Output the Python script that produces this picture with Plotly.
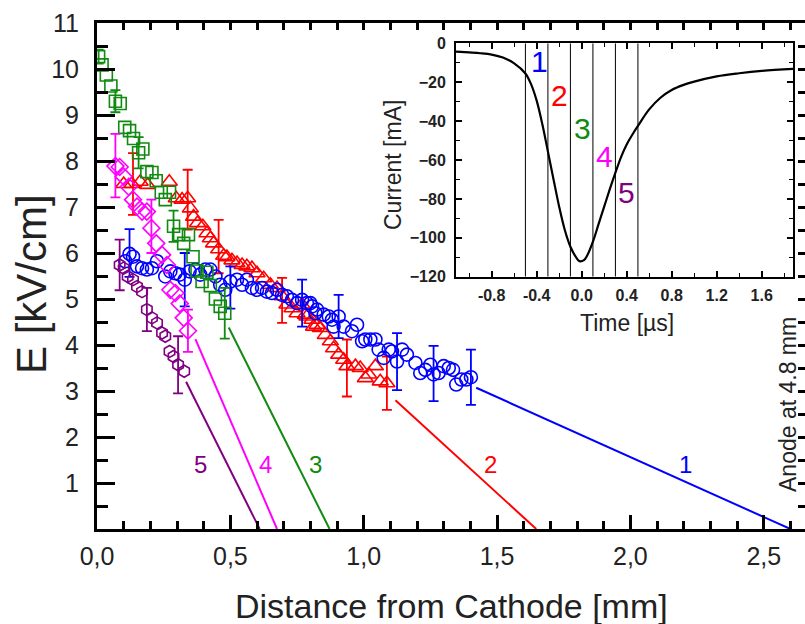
import plotly.graph_objects as go

# ---------------- data ----------------
# series 1 (blue circles)
s1_x = [0.106,0.122,0.135,0.150,0.169,0.187,0.206,0.225,0.256,0.275,0.294,0.310,0.329,0.347,0.369,0.387,
        0.406,0.425,0.444,0.462,0.481,0.500,0.525,0.544,0.562,0.581,0.600,0.619,0.637,0.656,0.675,0.694,
        0.712,0.731,0.750,0.769,0.787,0.800,0.806,0.819,0.825,0.850,0.869,0.881,0.887,0.906,0.925,0.956,
        0.975,0.994,1.006,1.025,1.044,1.056,1.075,1.094,1.106,1.125,1.144,1.162,1.194,1.212,1.231,1.250,
        1.262,1.281,1.300,1.319,1.335,1.347,1.366,1.385,1.402]
s1_y = [5.82,5.98,5.92,5.71,5.67,5.64,5.67,5.82,5.49,5.60,5.56,5.53,5.42,5.60,5.64,5.53,
        5.64,5.64,5.49,5.31,5.20,5.38,5.42,5.31,5.42,5.24,5.20,5.24,5.16,5.13,5.20,5.09,
        5.06,4.98,4.91,4.98,4.91,4.91,4.84,4.69,4.77,4.66,4.62,4.55,4.40,4.62,4.40,4.30,
        4.44,4.08,4.12,4.12,4.12,3.90,3.72,3.90,3.86,3.64,3.90,3.79,3.61,3.39,3.46,3.57,
        3.36,3.39,3.54,3.50,3.46,3.14,3.25,3.25,3.30]
s1_ex = [0.122,0.329,0.500,0.769,0.906,1.125,1.262,1.402]
s1_ey = [6.00,5.42,5.25,4.91,4.62,3.64,3.38,3.30]
s1_err = [0.52,0.58,0.46,0.51,0.47,0.62,0.60,0.60]

# series 2 (red triangles)
s2_x = [0.100,0.131,0.162,0.190,0.271,0.297,0.319,0.340,0.350,0.362,0.377,0.397,0.412,0.425,0.437,0.456,
        0.475,0.487,0.506,0.525,0.544,0.562,0.581,0.600,0.625,0.650,0.675,0.694,0.712,0.731,0.750,0.769,
        0.781,0.787,0.806,0.812,0.825,0.837,0.856,0.875,0.887,0.906,0.925,0.937,0.969,0.987,1.006,1.019,
        1.044,1.062,1.087]
s2_y = [7.50,7.50,7.55,7.48,7.55,7.19,7.16,7.19,6.97,6.79,6.65,6.58,6.43,6.32,6.21,6.08,
        5.94,5.91,5.84,5.78,5.74,5.71,5.67,5.56,5.45,5.31,5.24,5.06,4.88,4.80,4.69,4.88,
        4.66,4.62,4.55,4.40,4.44,4.37,4.22,4.08,3.93,3.79,3.68,3.54,3.54,3.50,3.28,3.36,
        3.54,3.21,3.17]
s2_ex = [0.135,0.340,0.456,0.694,0.937,1.087]
s2_ey = [7.50,7.16,6.14,4.97,3.50,3.17]
s2_err = [0.67,0.65,0.58,0.49,0.62,0.58]

# series 3 (green squares)
s3_x = [0.006,0.019,0.035,0.052,0.069,0.087,0.104,0.122,0.137,0.156,0.172,0.187,0.206,0.222,0.241,0.256,
        0.272,0.287,0.306,0.325,0.343,0.360,0.375,0.394,0.412,0.425,0.444,0.462,0.479]
s3_y = [10.27,10.09,9.87,9.63,9.30,9.25,8.73,8.66,8.49,8.18,8.26,7.77,7.75,7.57,7.32,7.16,
        7.32,6.58,6.40,6.21,6.40,5.92,5.61,5.38,5.58,5.29,5.00,4.84,4.69]
s3_ex = [0.006,0.069,0.156,0.287,0.479]
s3_ey = [10.27,9.30,8.18,6.58,4.69]
s3_err = [0.15,0.24,0.34,0.34,0.55]

# series 4 (magenta diamonds)
s4_x = [0.069,0.085,0.100,0.119,0.135,0.150,0.169,0.187,0.204,0.222,0.244,0.262,0.275,0.294,0.310,0.325,0.341]
s4_y = [7.89,7.87,7.66,7.44,7.16,7.01,6.90,6.90,6.54,6.21,5.96,5.74,5.20,5.13,4.90,4.59,4.31]
s4_ex = [0.069,0.204,0.341]
s4_ey = [7.90,6.58,4.31]
s4_err = [0.69,0.58,0.46]

# series 5 (purple hexagons)
s5_x = [0.085,0.100,0.115,0.135,0.150,0.169,0.187,0.206,0.225,0.244,0.256,0.272,0.287,0.304,0.327]
s5_y = [5.74,5.67,5.49,5.42,5.27,5.16,4.77,4.59,4.48,4.26,4.19,3.86,3.75,3.57,3.43]
s5_ex = [0.085,0.187,0.304]
s5_ey = [5.74,4.77,3.57]
s5_err = [0.55,0.47,0.62]

# linear extrapolations to E = 0
fit_x0 = [1.422, 1.119, 0.494, 0.369, 0.334]
fit_y0 = [3.07, 2.80, 4.38, 4.13, 3.20]
fit_x1 = [2.600, 1.647, 0.872, 0.675, 0.610]

series_names = ["1", "2", "3", "4", "5"]
colors = ["#0000ff", "#ff0000", "#108a10", "#ff00ff", "#800080"]
symbols = ["circle-open", "triangle-up-open", "square-open", "diamond-open", "hexagon-open"]
marker_sizes = [13, 14, 12, 13, 12]

# main axes ticks
x_tickvals = [0.0, 0.5, 1.0, 1.5, 2.0, 2.5]
x_ticktext = ["0,0", "0,5", "1,0", "1,5", "2,0", "2,5"]
y_tickvals = [1, 2, 3, 4, 5, 6, 7, 8, 9, 10, 11]

# inset: current pulse
t_us = [-1.117, -1.0, -0.9, -0.8, -0.7, -0.6, -0.5, -0.45, -0.4, -0.35, -0.3, -0.25, -0.2, -0.15, -0.1,
        -0.05, -0.02, 0.02, 0.05, 0.1, 0.15, 0.2, 0.25, 0.3, 0.35, 0.4, 0.45, 0.5, 0.6, 0.7, 0.8, 0.9,
        1.0, 1.2, 1.4, 1.6, 1.88]
i_mA = [-4.3, -4.7, -5.1, -5.8, -7.3, -10.3, -15.5, -21.0, -29.5, -41.5, -55.7, -70.0, -84.0, -96.0, -104.6,
        -110.0, -112.0, -111.5, -109.0, -102.0, -93.0, -84.0, -75.0, -66.5, -58.5, -52.0, -47.0, -42.5,
        -34.0, -28.0, -24.0, -21.5, -19.7, -17.0, -15.4, -14.2, -13.2]
window_edges = [-0.5, -0.3, -0.1, 0.1, 0.3, 0.5]
inset_tickvals = [-0.8, -0.4, 0.0, 0.4, 0.8, 1.2, 1.6]
inset_yticks = [0, -20, -40, -60, -80, -100, -120]

# ---------------- layout geometry ----------------
W, H = 805, 624
L, R, T, B = 97, 0, 23, 95
PW, PH = W - L - R, H - T - B
X_PER_MM = 266.7
XMAX = PW / X_PER_MM

def px2paper(px, py):
    return (px - L) / PW, (H - B - py) / PH

FONT = "Liberation Sans, Arial, Helvetica, sans-serif"
fig = go.Figure()

series = [(s1_x, s1_y, s1_ex, s1_ey, s1_err), (s2_x, s2_y, s2_ex, s2_ey, s2_err),
          (s3_x, s3_y, s3_ex, s3_ey, s3_err), (s4_x, s4_y, s4_ex, s4_ey, s4_err),
          (s5_x, s5_y, s5_ex, s5_ey, s5_err)]

# fit lines
for i in range(5):
    fig.add_trace(go.Scatter(x=[fit_x0[i], fit_x1[i]], y=[fit_y0[i], 0], mode="lines",
                             line=dict(color=colors[i], width=2), showlegend=False, hoverinfo="skip"))

draw_order = [1, 0, 2, 3, 4]
for i in draw_order:
    sx, sy, ex, ey, er = series[i]
    fig.add_trace(go.Scatter(x=ex, y=ey, mode="markers", marker=dict(size=1, opacity=0),
                             error_y=dict(type="data", array=er, visible=True, color=colors[i],
                                          thickness=1.8, width=5),
                             showlegend=False, hoverinfo="skip"))
    fig.add_trace(go.Scatter(x=sx, y=sy, mode="markers", name=series_names[i],
                             marker=dict(symbol=symbols[i], size=marker_sizes[i],
                                         color=colors[i], line=dict(color=colors[i], width=1.6)),
                             showlegend=False))

# dummy trace for top/right mirror axes
fig.add_trace(go.Scatter(x=[None], y=[None], xaxis="x3", yaxis="y3", showlegend=False))

# inset traces
for tv in window_edges:
    fig.add_trace(go.Scatter(x=[tv, tv], y=[-120, 0], mode="lines", xaxis="x2", yaxis="y2",
                             line=dict(color="black", width=1), showlegend=False, hoverinfo="skip"))
fig.add_trace(go.Scatter(x=t_us, y=i_mA, mode="lines", xaxis="x2", yaxis="y2",
                         line=dict(color="black", width=2.2, shape="spline", smoothing=1.0),
                         showlegend=False))

# inset domain
ix0, iy0 = px2paper(456, 276.7)
ix1, iy1 = px2paper(793.3, 43.3)

axis_common = dict(showgrid=False, zeroline=False, linecolor="black", tickcolor="black", automargin=False)
fig.update_layout(
    width=W, height=H, margin=dict(l=L, r=R, t=T, b=B, autoexpand=False),
    paper_bgcolor="white", plot_bgcolor="rgba(0,0,0,0)",
    font=dict(family=FONT, color="#222"),
    xaxis=dict(range=[0, XMAX], domain=[0, 1], showline=True, linewidth=3, ticks="inside",
               ticklen=14, tickwidth=2.5, tickvals=x_tickvals, ticktext=x_ticktext,
               tickfont=dict(size=25, color="#222"), ticklabelstandoff=3,
               minor=dict(ticks="inside", ticklen=8, tickwidth=2.5, tick0=0, dtick=0.1, tickcolor="black"),
               **axis_common),
    yaxis=dict(range=[0, 11], domain=[0, 1], showline=True, linewidth=3, ticks="inside",
               ticklen=18, tickwidth=2.5, tickvals=y_tickvals, ticktext=[str(v) for v in y_tickvals],
               tickfont=dict(size=25, color="#222"), ticklabelstandoff=10,
               minor=dict(ticks="inside", ticklen=11, tickwidth=2.5, tick0=0, dtick=0.5, tickcolor="black"),
               **axis_common),
    xaxis3=dict(range=[0, XMAX], overlaying="x", side="top", anchor="y3", showline=True, linewidth=3,
                ticks="inside", ticklen=7, tickwidth=2.5, tick0=0, dtick=0.1, showticklabels=False,
                **axis_common),
    yaxis3=dict(range=[0, 11], overlaying="y", side="right", anchor="x3", showline=False,
                ticks="inside", ticklen=7, tickwidth=2.5, tick0=0, dtick=0.5, showticklabels=False,
                **axis_common),
    xaxis2=dict(domain=[ix0, ix1], anchor="y2", range=[-1.117, 1.881], showline=True, linewidth=2,
                mirror="ticks", ticks="inside", ticklen=6, tickwidth=1.5, tickvals=inset_tickvals,
                ticktext=["%.1f" % v for v in inset_tickvals],
                tickfont=dict(size=16, color="#222", family=FONT, weight="bold"), ticklabelstandoff=3,
                minor=dict(ticks="inside", ticklen=4, tickwidth=1.2, tick0=0, dtick=0.2, tickcolor="black"),
                **axis_common),
    yaxis2=dict(domain=[iy0, iy1], anchor="x2", range=[-120, 0], showline=True, linewidth=2,
                mirror="ticks", ticks="inside", ticklen=6, tickwidth=1.5, tickvals=inset_yticks,
                tickfont=dict(size=16, color="#222", family=FONT, weight="bold"), ticklabelstandoff=5,
                minor=dict(ticks="inside", ticklen=4, tickwidth=1.2, tick0=0, dtick=10, tickcolor="black"),
                **axis_common),
)

ann = []
# axis titles
ax_, ay_ = px2paper(452, 606)
ann.append(dict(text="Distance from Cathode [mm]", x=ax_, y=ay_, xref="paper", yref="paper",
                showarrow=False, font=dict(size=34, color="#222"), xanchor="center", yanchor="middle"))
ax_, ay_ = px2paper(31, 284)
ann.append(dict(text="E [kV/cm]", x=ax_, y=ay_, xref="paper", yref="paper", textangle=-90,
                showarrow=False, font=dict(size=42, color="#222"), xanchor="center", yanchor="middle"))
ax_, ay_ = px2paper(788, 405)
ann.append(dict(text="Anode at 4.8 mm", x=ax_, y=ay_, xref="paper", yref="paper", textangle=-90,
                showarrow=False, font=dict(size=23, color="#222"), xanchor="center", yanchor="middle"))
# inset titles
ax_, ay_ = px2paper(627, 323)
ann.append(dict(text="Time [\u00b5s]", x=ax_, y=ay_, xref="paper", yref="paper",
                showarrow=False, font=dict(size=23, color="#222"), xanchor="center", yanchor="middle"))
ax_, ay_ = px2paper(393, 165)
ann.append(dict(text="Current [mA]", x=ax_, y=ay_, xref="paper", yref="paper", textangle=-90,
                showarrow=False, font=dict(size=23, color="#222"), xanchor="center", yanchor="middle"))
# inset window labels
inset_lab_t = [-0.377, -0.193, 0.003, 0.201, 0.40]
inset_lab_i = [-9.5, -26.6, -43.7, -58.3, -76.8]
for i in range(5):
    ann.append(dict(text=series_names[i], x=inset_lab_t[i], y=inset_lab_i[i], xref="x2", yref="y2",
                    showarrow=False, font=dict(size=30, color=colors[i]), xanchor="center", yanchor="middle"))
# main line labels
line_lab_x = [2.206, 1.475, 0.819, 0.631, 0.387]
for i in range(5):
    ann.append(dict(text=series_names[i], x=line_lab_x[i], y=1.40, xref="x", yref="y",
                    showarrow=False, font=dict(size=24, color=colors[i]), xanchor="center", yanchor="middle"))
fig.update_layout(annotations=ann)

fig.write_html("out.html", config={"displayModeBar": False},
               post_script="document.body.style.margin='0px';document.body.style.padding='0px';")
